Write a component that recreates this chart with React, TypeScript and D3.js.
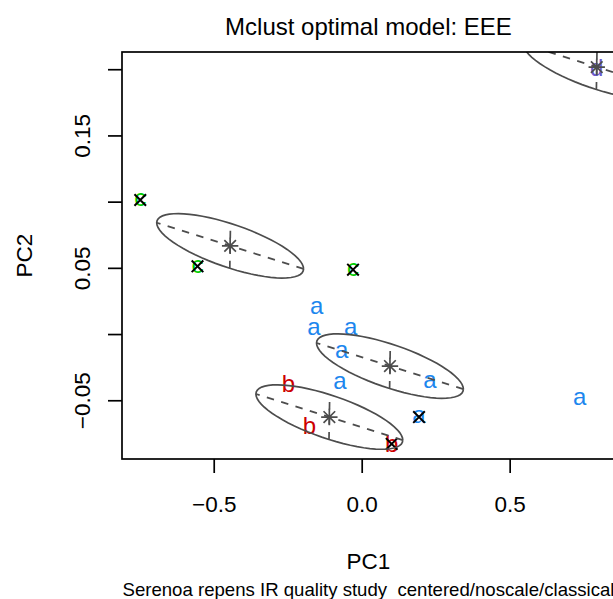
import React from "react";
import * as d3 from "d3";

// PC1 / PC2 scores of the samples, grouped by their class label
const classA: [number, number][] = [
  [-0.1536, 0.0199],
  [-0.1627, 0.0042],
  [-0.0388, 0.0042],
  [-0.0692, -0.013],
  [-0.0749, -0.0365],
  [0.2288, -0.0357],
  [0.192, -0.0623],
  [0.735, -0.0482],
];
const classB: [number, number][] = [
  [-0.2494, -0.0369],
  [-0.1785, -0.0686],
  [0.0996, -0.0826],
];
const classC: [number, number][] = [
  [-0.7499, 0.1016],
  [-0.5565, 0.0515],
  [-0.031, 0.049],
];
const classD: [number, number][] = [[0.7925, 0.202]];

const classLabels = ["a", "b", "c", "d"];
const classColors = ["#1C86EE", "#CD0000", "#00CD00", "#6A5ACD"];

// samples whose mclust cluster disagrees with their label: [class, index]
const misclassified: [string, number][] = [
  ["a", 6],
  ["b", 2],
  ["c", 0],
  ["c", 1],
  ["c", 2],
];

// fitted component means (EEE model) and the shared covariance matrix
const clusterMeans: [number, number][] = [
  [0.0938, -0.0238],
  [-0.111, -0.0623],
  [-0.4462, 0.067],
  [0.7925, 0.202],
];
const sharedSigma: [[number, number], [number, number]] = [
  [0.06155, -0.004307],
  [-0.004307, 0.000592],
];

const xTicks = [-0.5, 0, 0.5];
const yTicks = [-0.05, 0, 0.05, 0.1, 0.15, 0.2];
const yTickLabels = [-0.05, 0.05, 0.15];

const W = 613;
const H = 599;
const L = 122;
const R = 615;
const T = 52;
const B = 459;
const FONT = "'Liberation Sans', Arial, Helvetica, sans-serif";
const GREY30 = "#4D4D4D";
const DASH = "7.5,7.5";

// R-style axis range: data range widened by 4% on each side
function padRange(v: number[]): [number, number] {
  const [lo, hi] = d3.extent(v) as [number, number];
  const d = (hi - lo) * 0.04;
  return [lo - d, hi + d];
}

function eigen2(S: [[number, number], [number, number]]) {
  const a = S[0][0];
  const b = S[0][1];
  const d = S[1][1];
  const tr = (a + d) / 2;
  const disc = Math.sqrt(((a - d) / 2) ** 2 + b * b);
  const l1 = tr + disc;
  const l2 = tr - disc;
  let v1 = [l1 - d, b];
  const n = Math.hypot(v1[0], v1[1]);
  v1 = [v1[0] / n, v1[1] / n];
  const v2 = [-v1[1], v1[0]];
  return { s: [Math.sqrt(l1), Math.sqrt(l2)], v1, v2 };
}

// vertical shift that puts the glyph's ink centre on the point
function inkShift(ch: string, fs: number) {
  return (/[bdhklft]/.test(ch) ? 0.352 : 0.262) * fs;
}

export default function App() {
  const groups = [classA, classB, classC, classD];
  const all = groups.flat();
  const x = d3.scaleLinear().domain(padRange(all.map((p) => p[0]))).range([L, R]);
  const y = d3.scaleLinear().domain(padRange(all.map((p) => p[1]))).range([B, T]);

  const line = d3
    .line<number[]>()
    .x((p) => x(p[0]))
    .y((p) => y(p[1]));

  const { s, v1, v2 } = eigen2(sharedSigma);
  const fmtX = d3.format(".1f");
  const fmtY = d3.format(".2f");
  const ptFont = 24;
  const xh = 5.8; // half-size of the x mark
  const ph = 8.2; // half-size of the + mark

  const crossPath = (cx: number, cy: number, h: number) =>
    `M${cx - h},${cy - h}L${cx + h},${cy + h}M${cx - h},${cy + h}L${cx + h},${cy - h}`;
  const plusPath = (cx: number, cy: number, h: number) =>
    `M${cx - h},${cy}L${cx + h},${cy}M${cx},${cy - h}L${cx},${cy + h}`;

  const ellipses = clusterMeans.map((mu, k) => {
    const pts = d3.range(0, 65).map((i) => {
      const t = (i / 64) * 2 * Math.PI;
      const a = s[0] * Math.cos(t);
      const b = s[1] * Math.sin(t);
      return [mu[0] + a * v1[0] + b * v2[0], mu[1] + a * v1[1] + b * v2[1]];
    });
    const major = [
      [mu[0] + s[0] * v1[0], mu[1] + s[0] * v1[1]],
      [mu[0] - s[0] * v1[0], mu[1] - s[0] * v1[1]],
    ];
    const minor = [
      [mu[0] - s[1] * v2[0], mu[1] - s[1] * v2[1]],
      [mu[0] + s[1] * v2[0], mu[1] + s[1] * v2[1]],
    ];
    const cx = x(mu[0]);
    const cy = y(mu[1]);
    return (
      <g key={"e" + k} stroke={GREY30} fill="none" strokeWidth={1.7}>
        <path d={line(pts) || ""} />
        <path d={line(major) || ""} strokeDasharray={DASH} />
        <path d={line(minor) || ""} strokeDasharray={DASH} />
        <path d={crossPath(cx, cy, xh) + plusPath(cx, cy, ph)} />
      </g>
    );
  });

  return (
    <svg
      width={W}
      height={H}
      style={{ position: "absolute", left: 0, top: 0, background: "#fff" }}
      fontFamily={FONT}
    >
      <rect x={0} y={0} width={W} height={H} fill="#fff" />
      <defs>
        <clipPath id="plotArea">
          <rect x={L} y={T} width={R - L} height={B - T} />
        </clipPath>
      </defs>

      <g clipPath="url(#plotArea)">
        {groups.map((pts, gi) =>
          pts.map((p, i) => (
            <text
              key={`${gi}-${i}`}
              x={x(p[0])}
              y={y(p[1]) + inkShift(classLabels[gi], ptFont)}
              fontSize={ptFont}
              textAnchor="middle"
              fill={classColors[gi]}
            >
              {classLabels[gi]}
            </text>
          ))
        )}
        {misclassified.map(([c, i], k) => {
          const p = groups[classLabels.indexOf(c)][i];
          return (
            <path
              key={"m" + k}
              d={crossPath(x(p[0]), y(p[1]), xh)}
              stroke="#000"
              strokeWidth={2}
              fill="none"
            />
          );
        })}
        {ellipses}
      </g>

      {/* plot frame */}
      <rect x={L} y={T} width={R - L} height={B - T} fill="none" stroke="#000" strokeWidth={1.7} />

      {/* x axis */}
      {xTicks.map((t) => (
        <g key={"xt" + t}>
          <line x1={x(t)} x2={x(t)} y1={B} y2={B + 14} stroke="#000" strokeWidth={1.7} />
          <text x={x(t)} y={511.5} fontSize={22.5} textAnchor="middle">
            {fmtX(t)}
          </text>
        </g>
      ))}

      {/* y axis */}
      {yTicks.map((t) => (
        <line key={"yt" + t} x1={L} x2={L - 14} y1={y(t)} y2={y(t)} stroke="#000" strokeWidth={1.7} />
      ))}
      {yTickLabels.map((t) => (
        <text
          key={"yl" + t}
          transform={`translate(90,${y(t)}) rotate(-90)`}
          fontSize={22.5}
          textAnchor="middle"
        >
          {fmtY(t)}
        </text>
      ))}

      <text x={(L + R) / 2} y={35} fontSize={24} textAnchor="middle">
        Mclust optimal model: EEE
      </text>
      <text x={(L + R) / 2} y={568.5} fontSize={22.5} textAnchor="middle">
        PC1
      </text>
      <text
        transform={`translate(31.5,${(T + B) / 2}) rotate(-90)`}
        fontSize={22.5}
        textAnchor="middle"
      >
        PC2
      </text>
      <text x={(L + R) / 2} y={595.5} fontSize={18.6} textAnchor="middle" xmlSpace="preserve">
        Serenoa repens IR quality study  centered/noscale/classical
      </text>
    </svg>
  );
}
